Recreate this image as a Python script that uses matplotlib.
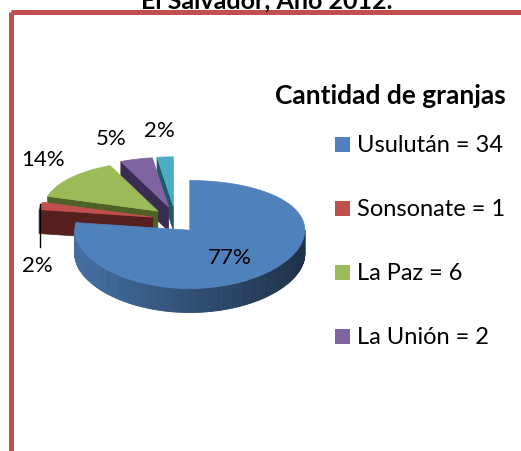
import numpy as np
import matplotlib.pyplot as plt
from matplotlib.patches import Polygon, Rectangle
from matplotlib.colors import to_rgb

plt.rcParams['font.family'] = ['Lato', 'DejaVu Sans']

chart_title = 'El Salvador, Año 2012.'
legend_title = 'Cantidad de granjas'
departments = ['Usulután', 'Sonsonate', 'La Paz', 'La Unión', 'Otro']
farms = [34, 1, 6, 2, 1]
legend_count = 4  # the fifth entry is cut off in the original

top_colors = ['#4F81BD', '#C0504D', '#9BBB59', '#8064A2', '#4BACC6']
face_colors = ['#2B4A72', '#55201E', '#4E6126', '#3B2D52', '#1F5A68']

# label positions (pixels), one per slice
label_pos = [(230, 258), (37, 266), (43, 160), (111, 139), (159, 131)]

fig = plt.figure(figsize=(5.21, 4.52), dpi=100)
ax = fig.add_axes([0, 0, 1, 1])
ax.set_xlim(0, 521)
ax.set_ylim(452, 0)
ax.axis('off')

# red frame of the chart area
ax.add_patch(Rectangle((10.5, 12.5), 600, 600, fill=False,
                       edgecolor='#C0504D', lw=3.6, joinstyle='round'))

# title is cut off at the top edge, like in the original
ax.text(267, 8, chart_title, ha='center', va='baseline',
        fontsize=18, fontweight='bold', color='black')

# 3d pie geometry
cx, cy = 175, 221
a, b, k = 115, 54, 0.08
depth = 24
ex, ey = 22.6, 13.5


def rim(theta, ox, oy):
    t = np.radians(theta)
    s = np.sin(t)
    return ox + a * np.cos(t), oy - b * s * (1 - k * s)


def shade(color, f):
    return tuple(min(1, c * f) for c in to_rgb(color))


total = sum(farms)
fracs = np.array(farms) / total
ends = 90 - 360 * np.cumsum(fracs)
starts = ends + 360 * fracs
mids = (starts + ends) / 2

order = np.argsort(-np.sin(np.radians(mids)))

for i in order:
    ta, tb, tm = starts[i], ends[i], mids[i]
    ox = cx + ex * np.cos(np.radians(tm))
    oy = cy - ey * np.sin(np.radians(tm))

    # cut faces
    for th, normal in [(ta, ta + 90), (tb, tb - 90)]:
        if np.sin(np.radians(normal)) < -0.01:
            px, py = rim(th, ox, oy)
            quad = [(ox, oy), (px, py), (px, py + depth), (ox, oy + depth)]
            ax.add_patch(Polygon(quad, closed=True, facecolor=face_colors[i],
                                 edgecolor=face_colors[i], lw=0.5))

    # outer side, shaded left to right
    arc = np.linspace(tb, ta, 240)
    for t0, t1 in zip(arc[:-1], arc[1:]):
        tmid = (t0 + t1) / 2
        if np.sin(np.radians(tmid)) < 0:
            x0, y0 = rim(t0, ox, oy)
            x1, y1 = rim(t1, ox, oy)
            f = 0.62 - 0.24 * np.cos(np.radians(tmid))
            c = shade(top_colors[i], f)
            ax.add_patch(Polygon([(x0, y0), (x1, y1), (x1, y1 + depth), (x0, y0 + depth)],
                                 closed=True, facecolor=c, edgecolor=c, lw=0.6))

    # top face
    xs, ys = rim(arc, ox, oy)
    pts = [(ox, oy)] + list(zip(xs, ys))
    ax.add_patch(Polygon(pts, closed=True, facecolor=top_colors[i],
                         edgecolor=top_colors[i], lw=0.5))

# percentage labels
for i, (lx, ly) in enumerate(label_pos):
    ax.text(lx, ly, f'{round(100 * farms[i] / total)}%', ha='center', va='center',
            fontsize=16, color='black')

# leader line for the small red slice
ax.plot([40, 40], [205, 248], color='black', lw=1)

# legend
ax.text(275, 96, legend_title, ha='left', va='center', fontsize=19,
        fontweight='bold', color='black')
for j in range(legend_count):
    yy = 145.5 + j * 64
    ax.add_patch(Rectangle((335, yy - 7.5), 15, 15, facecolor=top_colors[j],
                           edgecolor='none'))
    ax.text(357, yy, f'{departments[j]} = {farms[j]}', ha='left', va='center',
            fontsize=17, color='black')

fig.savefig('out.png', dpi=100)
